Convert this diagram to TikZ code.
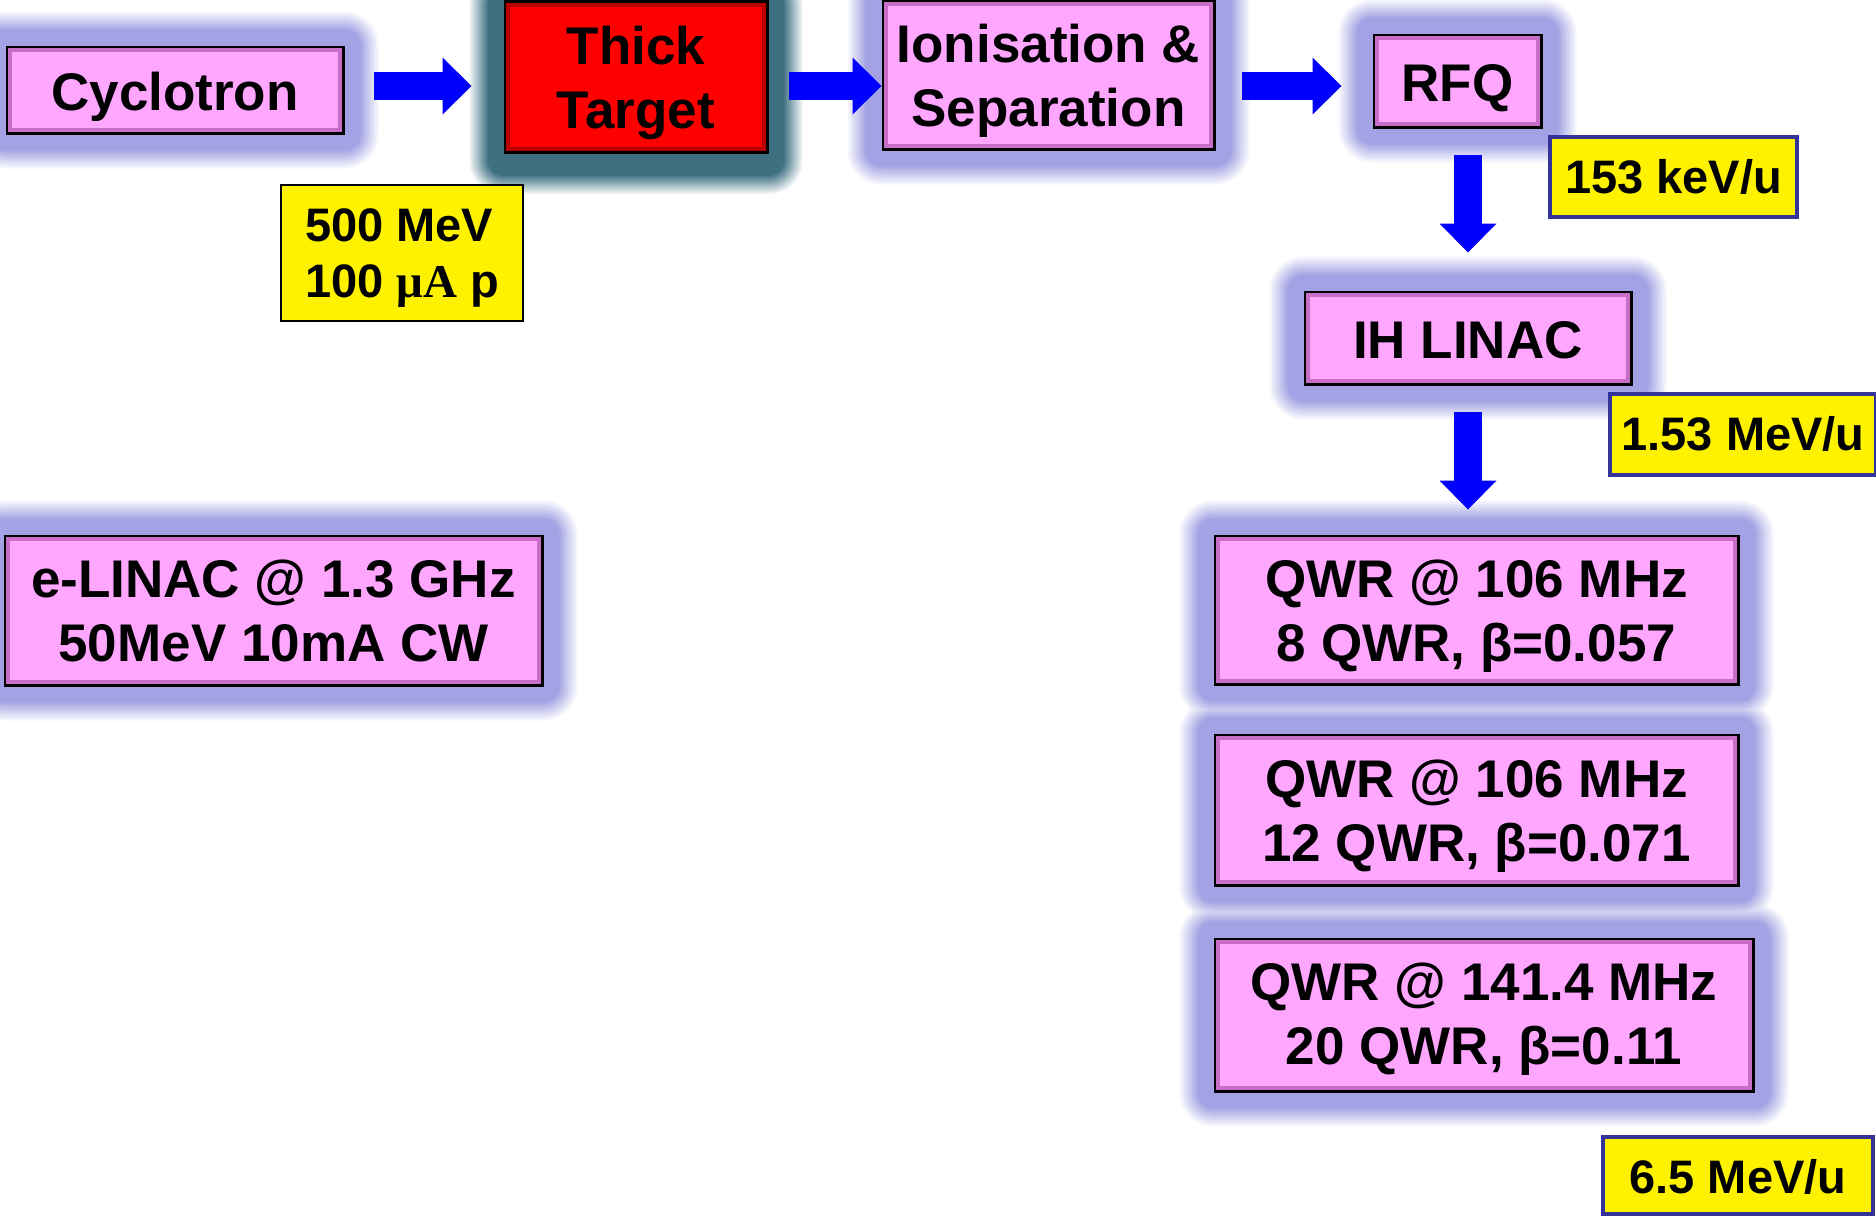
\documentclass[tikz,border=0pt]{standalone}
\usepackage{fontspec}
\setmainfont{Liberation Sans}
\newfontfamily\serifb{Liberation Serif}
\usetikzlibrary{arrows.meta, positioning, calc, backgrounds}

\definecolor{rosa}{RGB}{255,166,255}
\definecolor{lila}{RGB}{162,162,228}
\definecolor{malva}{RGB}{200,110,200}
\definecolor{rojo}{RGB}{255,0,0}
\definecolor{rojoosc}{RGB}{185,0,0}
\definecolor{verdeazul}{RGB}{62,112,130}
\definecolor{azulosc}{RGB}{51,51,153}
\definecolor{azul}{RGB}{0,0,255}

% un anillo del halo: nodo, color, desplazamiento vertical
\newcommand{\halo}[3]{%
	\fill[#2, rounded corners=\g pt]
	($(#1.north west)+(-\g pt,\g pt+#3)$) rectangle ($(#1.south east)+(\g pt,-\g pt+#3)$);}
% bisel interior
\newcommand{\bisel}[2]{%
	\draw[#2, line width=2pt]
	($(#1.north west)+(2.4pt,-2.4pt)$) rectangle ($(#1.south east)+(-2.4pt,2.4pt)$);}

\begin{document}
\begin{tikzpicture}[
		x=0.5pt, y=-0.5pt,
		every node/.style={font=\fontsize{26.5}{32}\selectfont\bfseries},
		caja/.style={draw=black, line width=2.5pt, fill=rosa, align=center, inner sep=0pt,
			text height=20pt, text depth=0pt},
		dos/.style={text height=51pt},
		blanco/.style={caja, fill=rojo},
		etiqueta/.style={draw=azulosc, line width=2pt, fill=yellow, inner sep=0pt, align=center,
			text height=16pt, text depth=0pt, font=\fontsize{23.5}{28}\selectfont\bfseries},
		flecha/.style={draw=azul, line width=14pt, -{Triangle[width=28.5pt, length=14.5pt, line width=0pt]}}
		]
		\useasboundingbox (0,0) rectangle (1876,1216);
		
		% Nodos
		\node[caja, minimum width=167pt, minimum height=42pt] (cyc) at (175,90) {Cyclotron};
		\node[blanco, dos, minimum width=130pt, minimum height=74.5pt] (target) at (636,77) {Thick\\Target};
		\node[caja, dos, minimum width=164.5pt, minimum height=73pt] (ion) at (1048.5,75) {Ionisation \&\\Separation};
		\node[caja, minimum width=82.5pt, minimum height=45pt] (rfq) at (1457.5,81) {RFQ};
		\node[caja, minimum width=162pt, minimum height=45pt] (ih) at (1468,338) {IH LINAC};
		\node[caja, dos, minimum width=260.5pt, minimum height=73pt] (qwr1) at (1476.5,610) {QWR @ 106 MHz\\8 QWR, β=0.057};
		\node[caja, dos, minimum width=260.5pt, minimum height=74pt] (qwr2) at (1476.5,810) {QWR @ 106 MHz\\12 QWR, β=0.071};
		\node[caja, dos, text height=49pt, minimum width=268pt, minimum height=75pt] (qwr3) at (1484,1015) {QWR @ 141.4 MHz\\20 QWR, β=0.11};
		\node[caja, dos, minimum width=267.5pt, minimum height=73.5pt] (elinac) at (273.5,610.5) {e-LINAC @ 1.3 GHz\\50MeV 10mA CW};
		
		% Etiquetas de energia
		\node[etiqueta, draw=black, line width=0.8pt, align=left, text height=44pt,
			minimum width=121pt, minimum height=68pt] (haz) at (402,253) {500 MeV\\100 {\serifb μA} p};
		\node[etiqueta, minimum width=123.5pt, minimum height=40pt] (e1) at (1673.5,177) {153 keV/u};
		\node[etiqueta, minimum width=133pt, minimum height=40.5pt] (e2) at (1743,434.5) {1.53 MeV/u};
		\node[etiqueta, text height=18pt, minimum width=135pt, minimum height=38.5pt] (e3) at (1738,1175.5) {6.5 MeV/u};
		
		% Biseles
		\foreach \n in {cyc,ion,rfq,ih,qwr1,qwr2,qwr3,elinac} {\bisel{\n}{malva}}
		\bisel{target}{rojoosc}
		
		% Halos (de fuera hacia dentro)
		\begin{scope}[on background layer]
			\foreach \g in {18,17,...,1}{
				\pgfmathtruncatemacro{\p}{min(100,(18-\g)*10)}
				\foreach \n in {cyc,ion,rfq,ih,qwr1,qwr2,qwr3,elinac} {\halo{\n}{lila!\p!white}{0pt}}
				\halo{target}{verdeazul!\p!white}{-3pt}
			}
		\end{scope}
		
		% Flechas
		\draw[flecha] ($(cyc.east)+(14.5pt,2pt)$) -- ($(cyc.east -| target.west)+(-16pt,2pt)$);
		\draw[flecha] ($(target.east)+(10pt,-4.5pt)$) -- ($(target.east -| ion.west)+(0pt,-4.5pt)$);
		\draw[flecha] ($(ion.east)+(13pt,-5.5pt)$) -- ($(ion.east -| rfq.west)+(-15.5pt,-5.5pt)$);
		\draw[flecha] ($(rfq.south -| ih.north)+(0,-13pt)$) -- ($(ih.north)+(0,19pt)$);
		\draw[flecha] ($(ih.south)+(0,-13pt)$) -- ($(ih.south |- qwr1.north)+(0,12.5pt)$);
	\end{tikzpicture}
\end{document}
